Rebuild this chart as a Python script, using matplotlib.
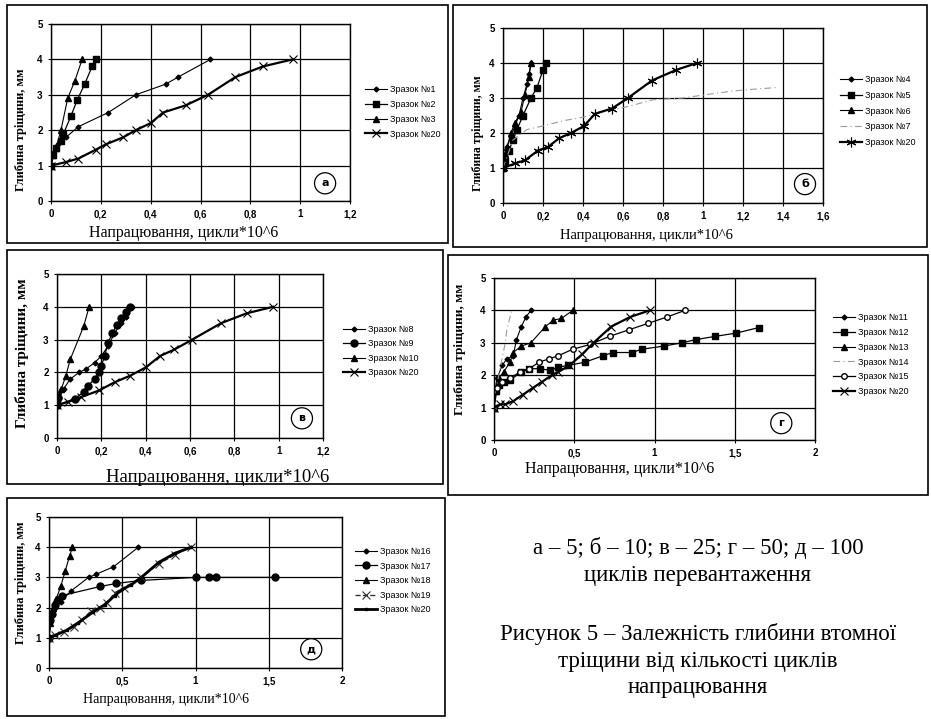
import matplotlib
matplotlib.use("Agg")
import matplotlib.pyplot as plt
from matplotlib.patches import Rectangle
from matplotlib.ticker import MultipleLocator, FuncFormatter

W, H = 931, 719

# ---- дані (напрацювання, цикли*10^6 ; глибина тріщини, мм) ----
# а - 5 циклів перевантаження
a_x1 = [0, 0.01, 0.03, 0.06, 0.11, 0.23, 0.34, 0.46, 0.51, 0.64]
a_y1 = [1.0, 1.35, 1.6, 1.8, 2.1, 2.5, 3.0, 3.3, 3.5, 4.0]
a_x2 = [0, 0.01, 0.02, 0.04, 0.05, 0.08, 0.105, 0.135, 0.165, 0.18]
a_y2 = [1.0, 1.3, 1.5, 1.7, 1.9, 2.4, 2.85, 3.3, 3.8, 4.0]
a_x3 = [0, 0.01, 0.02, 0.04, 0.067, 0.096, 0.125]
a_y3 = [1.0, 1.3, 1.5, 2.0, 2.9, 3.4, 4.0]
a_x20 = [0, 0.06, 0.11, 0.18, 0.22, 0.29, 0.34, 0.40, 0.45, 0.54, 0.63, 0.74, 0.85, 0.97]
a_y20 = [1.0, 1.1, 1.2, 1.45, 1.6, 1.8, 2.0, 2.2, 2.5, 2.7, 3.0, 3.5, 3.8, 4.0]

# б - 10 циклів
b_x4 = [0, 0.01, 0.02, 0.04, 0.06, 0.08, 0.1, 0.12, 0.13, 0.14]
b_y4 = [1.0, 1.3, 1.6, 1.9, 2.2, 2.5, 3.0, 3.4, 3.7, 4.0]
b_x5 = [0, 0.01, 0.03, 0.05, 0.07, 0.1, 0.14, 0.17, 0.2, 0.215]
b_y5 = [1.0, 1.2, 1.5, 1.8, 2.1, 2.5, 3.0, 3.3, 3.8, 4.0]
b_x6 = [0, 0.01, 0.02, 0.04, 0.06, 0.09, 0.11, 0.13, 0.14]
b_y6 = [1.0, 1.4, 1.6, 2.0, 2.3, 2.6, 3.1, 3.6, 4.0]
b_x7 = [0, 0.05, 0.12, 0.2, 0.3, 0.4, 0.5, 0.62, 0.75, 0.9, 1.02, 1.15, 1.25, 1.37]
b_y7 = [1.0, 1.8, 2.1, 2.2, 2.35, 2.45, 2.6, 2.75, 2.95, 3.0, 3.1, 3.2, 3.25, 3.3]
b_x20 = [0, 0.06, 0.11, 0.175, 0.225, 0.28, 0.34, 0.405, 0.46, 0.545, 0.625, 0.745, 0.865, 0.97]
b_y20 = [1.0, 1.13, 1.22, 1.5, 1.6, 1.85, 2.0, 2.2, 2.55, 2.7, 3.0, 3.5, 3.8, 4.0]

# в - 25 циклів
v_x8 = [0, 0.01, 0.03, 0.06, 0.1, 0.13, 0.17, 0.2, 0.23, 0.26, 0.29, 0.31, 0.34]
v_y8 = [1.0, 1.2, 1.5, 1.8, 2.0, 2.1, 2.3, 2.5, 2.8, 3.2, 3.5, 3.7, 4.0]
v_x9 = [0, 0.08, 0.12, 0.14, 0.17, 0.19, 0.2, 0.215, 0.23, 0.25, 0.27, 0.29, 0.31, 0.33]
v_y9 = [1.0, 1.2, 1.4, 1.6, 1.8, 2.0, 2.2, 2.5, 2.9, 3.2, 3.45, 3.65, 3.85, 4.0]
v_x10 = [0, 0.01, 0.02, 0.04, 0.06, 0.12, 0.145]
v_y10 = [1.0, 1.3, 1.5, 1.9, 2.4, 3.4, 4.0]
v_x20 = [0, 0.05, 0.11, 0.19, 0.26, 0.33, 0.40, 0.465, 0.53, 0.61, 0.74, 0.855, 0.975]
v_y20 = [1.0, 1.1, 1.25, 1.45, 1.7, 1.9, 2.15, 2.5, 2.7, 3.0, 3.5, 3.8, 4.0]

# г - 50 циклів
g_x11 = [0, 0.01, 0.02, 0.05, 0.08, 0.12, 0.14, 0.17, 0.2, 0.23]
g_y11 = [1.0, 1.6, 1.9, 2.3, 2.5, 2.6, 3.1, 3.5, 3.8, 4.0]
g_x12 = [0, 0.01, 0.03, 0.06, 0.1, 0.17, 0.22, 0.285, 0.35, 0.4, 0.46, 0.565,
         0.68, 0.74, 0.86, 0.92, 1.06, 1.17, 1.26, 1.38, 1.51, 1.65]
g_y12 = [1.0, 1.5, 1.7, 1.8, 1.85, 2.1, 2.2, 2.2, 2.15, 2.25, 2.3, 2.4,
         2.6, 2.7, 2.7, 2.8, 2.9, 3.0, 3.1, 3.2, 3.3, 3.47]
g_x13 = [0, 0.01, 0.03, 0.06, 0.1, 0.12, 0.17, 0.23, 0.32, 0.37, 0.42, 0.49]
g_y13 = [1.0, 1.5, 1.9, 2.1, 2.4, 2.7, 2.9, 3.0, 3.5, 3.7, 3.75, 4.0]
g_x14 = [0, 0.01, 0.03, 0.05, 0.07, 0.08, 0.1, 0.11]
g_y14 = [1.0, 1.5, 2.0, 2.5, 3.0, 3.4, 3.8, 4.0]
g_x15 = [0, 0.02, 0.05, 0.1, 0.16, 0.22, 0.28, 0.34, 0.4, 0.49, 0.6, 0.72, 0.84, 0.96, 1.08, 1.19]
g_y15 = [1.0, 1.6, 1.8, 1.9, 2.1, 2.2, 2.4, 2.5, 2.6, 2.8, 2.95, 3.2, 3.4, 3.6, 3.8, 4.0]
g_x20 = [0, 0.04, 0.07, 0.12, 0.18, 0.24, 0.3, 0.36, 0.4, 0.47, 0.55, 0.62, 0.73, 0.85, 0.97]
g_y20 = [1.0, 1.1, 1.1, 1.2, 1.4, 1.6, 1.8, 2.0, 2.1, 2.3, 2.65, 3.0, 3.5, 3.8, 4.0]

# д - 100 циклів
d_x16 = [0, 0.01, 0.02, 0.04, 0.08, 0.15, 0.27, 0.32, 0.44, 0.61]
d_y16 = [1.0, 1.5, 1.8, 2.0, 2.2, 2.55, 3.0, 3.1, 3.35, 4.0]
d_x17 = [0, 0.01, 0.02, 0.04, 0.06, 0.09, 0.35, 0.46, 0.63, 1.0, 1.09, 1.14, 1.54]
d_y17 = [1.0, 1.6, 1.8, 2.1, 2.25, 2.4, 2.7, 2.8, 2.9, 3.0, 3.0, 3.0, 3.0]
d_x18 = [0, 0.01, 0.03, 0.05, 0.08, 0.11, 0.14, 0.16]
d_y18 = [1.0, 1.5, 2.0, 2.3, 2.7, 3.2, 3.7, 4.0]
d_x19 = [0, 0.04, 0.1, 0.17, 0.225, 0.29, 0.35, 0.395, 0.45, 0.51, 0.63, 0.75, 0.86, 0.97]
d_y19 = [1.0, 1.1, 1.2, 1.35, 1.6, 1.9, 2.0, 2.15, 2.5, 2.65, 3.0, 3.45, 3.75, 4.0]
d_x20 = [0, 0.05, 0.12, 0.2, 0.3, 0.38, 0.45, 0.5, 0.56, 0.63, 0.75, 0.86, 0.97]
d_y20 = [1.0, 1.1, 1.25, 1.5, 1.85, 2.1, 2.4, 2.6, 2.75, 3.0, 3.5, 3.8, 4.0]

caption_top = ["а – 5; б – 10; в – 25; г – 50; д – 100", "циклів перевантаження"]
caption_bottom = ["Рисунок 5 – Залежність глибини втомної", "тріщини від кількості циклів",
                  "напрацювання"]

# ---- стилі ----
ST = {
    "D": dict(color="black", lw=0.8, marker="D", ms=2.5),
    "s": dict(color="black", lw=0.9, marker="s", ms=4),
    "^": dict(color="black", lw=0.8, marker="^", ms=4),
    "o": dict(color="black", lw=0.9, marker="o", ms=5),
    "oo": dict(color="black", lw=0.9, marker="o", ms=4, mfc="white"),
    "dash": dict(color="#9a9a9a", lw=0.8, ls=(0, (6, 3, 1, 3))),
    "x20": dict(color="black", lw=1.6, marker="x", ms=6, mew=0.8),
    "ast20": dict(color="black", lw=1.6, marker=(6, 2, 0), ms=7, mew=0.8),
    "x19": dict(color="#333333", lw=1.0, ls="--", marker="x", ms=6, mew=0.8),
    "thick": dict(color="black", lw=2.0, marker="s", ms=2),
}

fig = plt.figure(figsize=(W / 100, H / 100), dpi=100)
fig.patch.set_facecolor("white")


def fx(x):
    return x / W


def fy(y):
    return 1 - y / H


def comma(v, pos):
    return f"{round(v, 2):g}".replace(".", ",")


def panel(box, axbox, xmax, xstep, series, letter, lpos, leg, xlab, ylab):
    bl, bt, br, bb = box
    fig.add_artist(Rectangle((fx(bl), fy(bb)), (br - bl) / W, (bb - bt) / H,
                             transform=fig.transFigure, fill=False, ec="black", lw=1.2))
    l, t, r, b = axbox
    ax = fig.add_axes([fx(l), fy(b), (r - l) / W, (b - t) / H])
    for lab, x, y, st in series:
        ax.plot(x, y, label=lab, **ST[st])
    ax.set_xlim(0, xmax)
    ax.set_ylim(0, 5)
    ax.xaxis.set_major_locator(MultipleLocator(xstep))
    ax.yaxis.set_major_locator(MultipleLocator(1))
    ax.xaxis.set_major_formatter(FuncFormatter(comma))
    ax.grid(True, color="black", lw=0.9)
    ax.set_axisbelow(True)
    for s in ax.spines.values():
        s.set_linewidth(1.0)
    ax.tick_params(length=2, labelsize=7, pad=4)
    for tl in ax.get_xticklabels() + ax.get_yticklabels():
        tl.set_fontweight("bold")
        tl.set_family("Liberation Sans")
    ax.text(lpos[0], lpos[1], letter, ha="center", va="center", fontsize=8, fontweight="bold",
            bbox=dict(boxstyle="circle,pad=0.5", fc="white", ec="black", lw=0.9))
    ax.legend(loc="upper left", bbox_to_anchor=(fx(leg[0]), fy(leg[1])),
              bbox_transform=fig.transFigure, frameon=False,
              prop=dict(family="Liberation Sans", size=6.5), handlelength=2.4,
              handletextpad=0.4, labelspacing=leg[2], borderpad=0, borderaxespad=0)
    fig.text(fx(xlab[0]), fy(xlab[1]), "Напрацювання, цикли*10^6", ha="center", va="center",
             family="Liberation Serif", fontsize=xlab[2])
    fig.text(fx(ylab[0]), fy(ylab[1]), "Глибина тріщини, мм", ha="center", va="center",
             rotation=90, family="Liberation Serif", fontsize=ylab[2], fontweight="bold")
    return ax


panel((7, 5, 448, 243), (51, 24, 350, 201), 1.2, 0.2,
      [("Зразок №1", a_x1, a_y1, "D"), ("Зразок №2", a_x2, a_y2, "s"),
       ("Зразок №3", a_x3, a_y3, "^"), ("Зразок №20", a_x20, a_y20, "x20")],
      "а", (1.1, 0.5), (365, 85, 0.65), (184, 233, 11.5), (21, 130, 9))

panel((453, 5, 927, 247), (503, 28, 823, 203), 1.6, 0.2,
      [("Зразок №4", b_x4, b_y4, "D"), ("Зразок №5", b_x5, b_y5, "s"),
       ("Зразок №6", b_x6, b_y6, "^"), ("Зразок №7", b_x7, b_y7, "dash"),
       ("Зразок №20", b_x20, b_y20, "ast20")],
      "б", (1.51, 0.54), (840, 75, 0.75), (646, 236, 10.5), (478, 133, 8.5))

panel((7, 250, 443, 484), (57, 274, 323, 438), 1.2, 0.2,
      [("Зразок №8", v_x8, v_y8, "D"), ("Зразок №9", v_x9, v_y9, "o"),
       ("Зразок №10", v_x10, v_y10, "^"), ("Зразок №20", v_x20, v_y20, "x20")],
      "в", (1.105, 0.6), (343, 325, 0.6), (218, 477, 13.5), (22, 353, 11))

panel((448, 255, 928, 495), (494, 278, 815, 440), 2.0, 0.5,
      [("Зразок №11", g_x11, g_y11, "D"), ("Зразок №12", g_x12, g_y12, "s"),
       ("Зразок №13", g_x13, g_y13, "^"), ("Зразок №14", g_x14, g_y14, "dash"),
       ("Зразок №15", g_x15, g_y15, "oo"), ("Зразок №20", g_x20, g_y20, "x20")],
      "г", (1.79, 0.52), (833, 313, 0.65), (620, 469, 11.5), (460, 349, 9.5))

panel((7, 498, 445, 716), (49, 517, 342, 668), 2.0, 0.5,
      [("Зразок №16", d_x16, d_y16, "D"), ("Зразок №17", d_x17, d_y17, "o"),
       ("Зразок №18", d_x18, d_y18, "^"), ("Зразок №19", d_x19, d_y19, "x19"),
       ("Зразок №20", d_x20, d_y20, "thick")],
      "д", (1.79, 0.62), (355, 547, 0.62), (166, 700, 10), (21, 583, 9))

for i, line in enumerate(caption_top):
    fig.text(fx(698), fy(548 + i * 27), line, ha="center", va="center",
             family="Liberation Serif", fontsize=16.5)
for i, line in enumerate(caption_bottom):
    fig.text(fx(698), fy(634 + i * 27), line, ha="center", va="center",
             family="Liberation Serif", fontsize=16.5)

fig.savefig("out.png", dpi=100, facecolor="white")
